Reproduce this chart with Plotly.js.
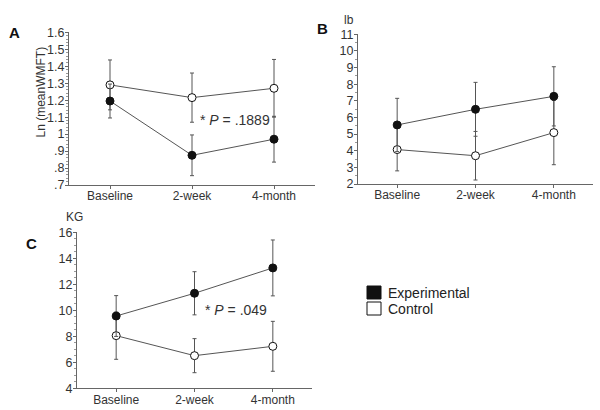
<!DOCTYPE html>
<html><head><meta charset="utf-8">
<script src="https://cdn.plot.ly/plotly-3.0.1.min.js"></script>
<style>html,body{margin:0;padding:0;background:#fff}#chart{width:600px;height:410px}</style>
</head><body><div id="chart"></div>
<script>
const categories = ['Baseline', '2-week', '4-month'];

// Panel A: Ln(meanWMFT)
const aExp = [1.195, 0.875, 0.97];
const aExpErr = [0.10, 0.12, 0.135];
const aCtl = [1.29, 1.215, 1.27];
const aCtlErr = [0.147, 0.145, 0.17];

// Panel B: lb
const bExp = [5.55, 6.49, 7.27];
const bExpErr = [1.6, 1.62, 1.78];
const bCtl = [4.07, 3.7, 5.09];
const bCtlErr = [1.28, 1.46, 1.93];

// Panel C: KG
const cExp = [9.56, 11.31, 13.26];
const cExpErr = [1.57, 1.66, 2.15];
const cCtl = [8.05, 6.51, 7.23];
const cCtlErr = [1.82, 1.31, 1.92];

const aTicks = [0.7,0.8,0.9,1.0,1.1,1.2,1.3,1.4,1.5,1.6];
const aTickText = ['.7','.8','.9','1','1.1','1.2','1.3','1.4','1.5','1.6'];
const bTicks = [2,3,4,5,6,7,8,9,10,11];
const cTicks = [4,6,8,10,12,14,16];
const legendNames = ['Experimental', 'Control'];

const lineCol = '#555';
const axCol = '#666';
function tr(y, err, xa, ya, filled) {
  return {
    x: categories, y: y, xaxis: xa, yaxis: ya, type: 'scatter', mode: 'lines+markers',
    showlegend: false,
    line: {color: lineCol, width: 1},
    marker: {size: 8, color: filled ? '#111' : '#fff', line: {color: '#111', width: 1}},
    error_y: {type: 'data', array: err, visible: true, color: lineCol, thickness: 1, width: 2}
  };
}
const data = [
  tr(aCtl, aCtlErr, 'x', 'y', false), tr(aExp, aExpErr, 'x', 'y', true),
  tr(bCtl, bCtlErr, 'x2', 'y2', false), tr(bExp, bExpErr, 'x2', 'y2', true),
  tr(cCtl, cCtlErr, 'x3', 'y3', false), tr(cExp, cExpErr, 'x3', 'y3', true)
];

const fontFam = 'Liberation Sans, Arial, sans-serif';
function xax(domain, anchor) {
  return {domain: domain, anchor: anchor, type: 'category', range: [-0.5, 2.5],
    showline: true, linecolor: axCol, linewidth: 1, ticks: 'outside', ticklen: 3, tickcolor: axCol,
    ticklabelstandoff: -3,
    showgrid: false, zeroline: false, tickfont: {size: 12, color: '#333'}, fixedrange: true};
}
function yax(domain, anchor, range, tv, tt, mdt) {
  return {domain: domain, anchor: anchor, range: range, tickvals: tv, ticktext: tt,
    showline: true, linecolor: axCol, linewidth: 1, ticks: 'outside', ticklen: 3, tickcolor: axCol,
    ticklabelstandoff: -2,
    minor: {ticks: 'outside', ticklen: 2, tickcolor: '#999', dtick: mdt},
    showgrid: false, zeroline: false, tickfont: {size: 12.5, color: '#333'}, fixedrange: true};
}
const sq = (y0, fill) => ({type: 'rect', xref: 'paper', yref: 'paper',
  x0: 367/600, x1: 381/600, y0: 1-(y0+13)/410, y1: 1-y0/410,
  fillcolor: fill, line: {color: '#111', width: 1}});
const ann = (text, x, y, size, extra) => Object.assign({text: text, xref: 'paper', yref: 'paper',
  x: x/600, y: 1-y/410, xanchor: 'center', yanchor: 'middle', showarrow: false,
  font: {size: size, color: '#333'}}, extra || {});

const layout = {
  width: 600, height: 410, margin: {l: 0, r: 0, t: 0, b: 0},
  paper_bgcolor: '#fff', plot_bgcolor: '#fff',
  font: {family: fontFam, color: '#333'},
  showlegend: false,
  xaxis: xax([69/600, 315/600], 'y'),
  yaxis: yax([1-185/410, 1-32.3/410], 'x', [0.7, 1.6], aTicks, aTickText, 0.02),
  xaxis2: xax([358/600, 593/600], 'y2'),
  yaxis2: yax([1-184/410, 1-34.3/410], 'x2', [2, 11], bTicks, bTicks.map(String), 0.5),
  xaxis3: xax([77/600, 312/600], 'y3'),
  yaxis3: yax([1-388.3/410, 1-232.3/410], 'x3', [4, 16], cTicks, cTicks.map(String), 0.5),
  shapes: [sq(286, '#111'), sq(302, '#fff')],
  annotations: [
    ann('<b>A</b>', 14, 33, 15, {font: {size: 15, color: '#111'}}),
    ann('<b>B</b>', 322, 29, 15, {font: {size: 15, color: '#111'}}),
    ann('<b>C</b>', 31, 243, 15, {font: {size: 15, color: '#111'}}),
    ann('Ln (meanWMFT)', 40.5, 92, 12, {textangle: -90}),
    ann('lb', 348.5, 20, 12),
    ann('KG', 74, 217, 12),
    ann('* <i>P</i> = .1889', 198, 120, 14, {xanchor: 'left'}),
    ann('* <i>P</i> = .049', 203, 310, 14, {xanchor: 'left'}),
    ann(legendNames[0], 386, 292.5, 14, {xanchor: 'left', font: {size: 14, color: '#222'}}),
    ann(legendNames[1], 386, 309, 14, {xanchor: 'left', font: {size: 14, color: '#222'}})
  ]
};
Plotly.newPlot('chart', data, layout, {staticPlot: true, displayModeBar: false});
</script></body></html>
